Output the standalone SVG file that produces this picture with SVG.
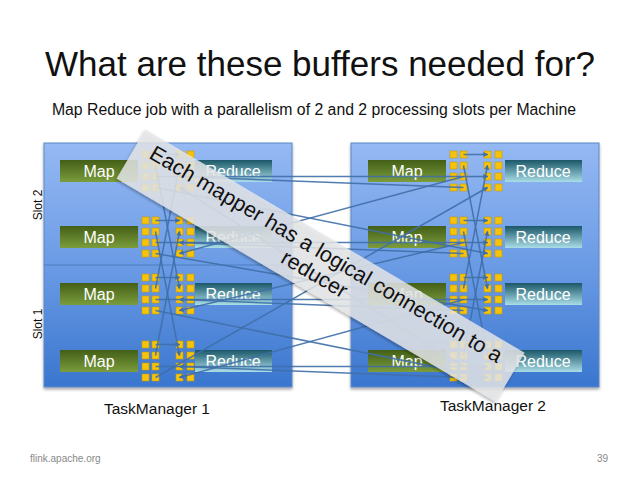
<svg xmlns="http://www.w3.org/2000/svg" xmlns:xlink="http://www.w3.org/1999/xlink" width="638" height="479" viewBox="0 0 638 479">
<style>
text{font-family:"Liberation Sans",Arial,sans-serif}
.title{font-size:35px;fill:#111}
.sub{font-size:15.8px;fill:#111}
.tm{fill:url(#tmg);stroke:#5d88c6;stroke-width:1}
.map{fill:url(#mapg)}
.red{fill:url(#redg)}
.bl{font-size:16px;fill:#fff;text-anchor:middle}
.sq{fill:#f6c30a;stroke:#c89a00;stroke-width:0.6}
.cn line{stroke:#3f6fa9;stroke-width:1.5;stroke-opacity:0.9;marker-end:url(#ah)}
.lbl{font-size:15.5px;fill:#111;text-anchor:middle}
.slot{font-size:12px;fill:#111;text-anchor:middle}
.foot{font-size:10px;fill:#888}
</style>
<defs>
<linearGradient id="tmg" x1="0" y1="0" x2="0" y2="1">
<stop offset="0" stop-color="#95b9f3"/>
<stop offset="0.5" stop-color="#6b9be5"/>
<stop offset="1" stop-color="#3a76ce"/>
</linearGradient>
<linearGradient id="mapg" x1="0" y1="0" x2="0" y2="1">
<stop offset="0" stop-color="#435f17"/>
<stop offset="1" stop-color="#7b9c3c"/>
</linearGradient>
<linearGradient id="redg" x1="0" y1="0" x2="0" y2="1">
<stop offset="0" stop-color="#1a5768"/>
<stop offset="1" stop-color="#a9dde7"/>
</linearGradient>
<filter id="sh" x="-5%" y="-5%" width="110%" height="112%">
<feDropShadow dx="0" dy="2" stdDeviation="1.5" flood-color="#000" flood-opacity="0.35"/>
</filter>
<marker id="ah" viewBox="0 0 6 6" refX="5" refY="3" markerWidth="5" markerHeight="5" orient="auto" markerUnits="userSpaceOnUse">
<path d="M0,0 L6,3 L0,6 z" fill="#3f6fa9"/>
</marker>
<g id="grid">
<rect class="sq" x="0" y="-20" width="7" height="7"/><rect class="sq" x="10" y="-20" width="7" height="7"/>
<rect class="sq" x="0" y="-9" width="7" height="7"/><rect class="sq" x="10" y="-9" width="7" height="7"/>
<rect class="sq" x="0" y="2" width="7" height="7"/><rect class="sq" x="10" y="2" width="7" height="7"/>
<rect class="sq" x="0" y="13" width="7" height="7"/><rect class="sq" x="10" y="13" width="7" height="7"/>
<rect class="sq" x="34" y="-20" width="7" height="7"/><rect class="sq" x="45" y="-20" width="7" height="7"/>
<rect class="sq" x="34" y="-9" width="7" height="7"/><rect class="sq" x="45" y="-9" width="7" height="7"/>
<rect class="sq" x="34" y="2" width="7" height="7"/><rect class="sq" x="45" y="2" width="7" height="7"/>
<rect class="sq" x="34" y="13" width="7" height="7"/><rect class="sq" x="45" y="13" width="7" height="7"/>
</g>
</defs>
<rect width="638" height="479" fill="#fff"/>
<text class="title" x="320" y="76" text-anchor="middle">What are these buffers needed for?</text>
<text class="sub" x="314" y="115" text-anchor="middle">Map Reduce job with a parallelism of 2 and 2 processing slots per Machine</text>

<g id="taskmanager1">
<rect class="tm" x="44" y="143" width="248" height="244" filter="url(#sh)"/>
<line x1="44" y1="265" x2="292" y2="265" stroke="#4f7cc0" stroke-width="1"/>
<text class="slot" transform="translate(42,205) rotate(-90)">Slot 2</text>
<text class="slot" transform="translate(42,324) rotate(-90)">Slot 1</text>
<text class="lbl" x="157" y="414">TaskManager 1</text>
</g>
<g id="taskmanager2">
<rect class="tm" x="351" y="143" width="248" height="244" filter="url(#sh)"/>
<text class="lbl" x="493" y="411">TaskManager 2</text>
</g>

<g id="tm1-map-a"><rect class="map" x="60" y="160" width="78" height="22"/><text class="bl" x="99" y="177">Map</text></g>
<g id="tm1-map-b"><rect class="map" x="60" y="226" width="78" height="22"/><text class="bl" x="99" y="243">Map</text></g>
<g id="tm1-map-c"><rect class="map" x="60" y="283" width="78" height="22"/><text class="bl" x="99" y="300">Map</text></g>
<g id="tm1-map-d"><rect class="map" x="60" y="350" width="78" height="22"/><text class="bl" x="99" y="367">Map</text></g>
<g id="tm1-reduce-a"><rect class="red" x="195" y="160" width="77" height="22"/><text class="bl" x="233" y="177">Reduce</text></g>
<g id="tm1-reduce-b"><rect class="red" x="195" y="226" width="77" height="22"/><text class="bl" x="233" y="243">Reduce</text></g>
<g id="tm1-reduce-c"><rect class="red" x="195" y="283" width="77" height="22"/><text class="bl" x="233" y="300">Reduce</text></g>
<g id="tm1-reduce-d"><rect class="red" x="195" y="350" width="77" height="22"/><text class="bl" x="233" y="367">Reduce</text></g>
<g id="tm2-map-a"><rect class="map" x="368" y="160" width="78" height="22"/><text class="bl" x="407" y="177">Map</text></g>
<g id="tm2-map-b"><rect class="map" x="368" y="226" width="78" height="22"/><text class="bl" x="407" y="243">Map</text></g>
<g id="tm2-map-c"><rect class="map" x="368" y="283" width="78" height="22"/><text class="bl" x="407" y="300">Map</text></g>
<g id="tm2-map-d"><rect class="map" x="368" y="350" width="78" height="22"/><text class="bl" x="407" y="367">Map</text></g>
<g id="tm2-reduce-a"><rect class="red" x="505" y="160" width="77" height="22"/><text class="bl" x="543" y="177">Reduce</text></g>
<g id="tm2-reduce-b"><rect class="red" x="505" y="226" width="77" height="22"/><text class="bl" x="543" y="243">Reduce</text></g>
<g id="tm2-reduce-c"><rect class="red" x="505" y="283" width="77" height="22"/><text class="bl" x="543" y="300">Reduce</text></g>
<g id="tm2-reduce-d"><rect class="red" x="505" y="350" width="77" height="22"/><text class="bl" x="543" y="367">Reduce</text></g>

<g id="buffers">
<use xlink:href="#grid" href="#grid" x="142" y="171"/>
<use xlink:href="#grid" href="#grid" x="142" y="237"/>
<use xlink:href="#grid" href="#grid" x="142" y="294"/>
<use xlink:href="#grid" href="#grid" x="142" y="361"/>
<use xlink:href="#grid" href="#grid" x="450" y="171"/>
<use xlink:href="#grid" href="#grid" x="450" y="237"/>
<use xlink:href="#grid" href="#grid" x="450" y="294"/>
<use xlink:href="#grid" href="#grid" x="450" y="361"/>
</g>

<g id="connectors" class="cn">
<line x1="155.5" y1="154.5" x2="179.5" y2="154.5"/>
<line x1="155.5" y1="165.5" x2="179.5" y2="288.5"/>
<line x1="155.5" y1="176.5" x2="487.5" y2="176.5"/>
<line x1="155.5" y1="187.5" x2="487.5" y2="253.5"/>
<line x1="155.5" y1="220.5" x2="179.5" y2="220.5"/>
<line x1="155.5" y1="231.5" x2="179.5" y2="355.5"/>
<line x1="155.5" y1="242.5" x2="487.5" y2="242.5"/>
<line x1="155.5" y1="253.5" x2="487.5" y2="310.5"/>
<line x1="155.5" y1="277.5" x2="179.5" y2="277.5"/>
<line x1="155.5" y1="288.5" x2="179.5" y2="165.5"/>
<line x1="155.5" y1="299.5" x2="487.5" y2="299.5"/>
<line x1="155.5" y1="310.5" x2="487.5" y2="377.5"/>
<line x1="155.5" y1="344.5" x2="179.5" y2="344.5"/>
<line x1="155.5" y1="355.5" x2="179.5" y2="231.5"/>
<line x1="155.5" y1="366.5" x2="487.5" y2="366.5"/>
<line x1="155.5" y1="377.5" x2="487.5" y2="187.5"/>
<line x1="463.5" y1="154.5" x2="487.5" y2="154.5"/>
<line x1="463.5" y1="165.5" x2="487.5" y2="288.5"/>
<line x1="463.5" y1="187.5" x2="179.5" y2="176.5"/>
<line x1="463.5" y1="176.5" x2="179.5" y2="253.5"/>
<line x1="463.5" y1="220.5" x2="487.5" y2="220.5"/>
<line x1="463.5" y1="231.5" x2="487.5" y2="355.5"/>
<line x1="463.5" y1="253.5" x2="179.5" y2="242.5"/>
<line x1="463.5" y1="242.5" x2="179.5" y2="310.5"/>
<line x1="463.5" y1="277.5" x2="487.5" y2="277.5"/>
<line x1="463.5" y1="288.5" x2="487.5" y2="165.5"/>
<line x1="463.5" y1="310.5" x2="179.5" y2="299.5"/>
<line x1="463.5" y1="299.5" x2="179.5" y2="377.5"/>
<line x1="463.5" y1="344.5" x2="487.5" y2="344.5"/>
<line x1="463.5" y1="355.5" x2="487.5" y2="231.5"/>
<line x1="463.5" y1="377.5" x2="179.5" y2="366.5"/>
<line x1="463.5" y1="366.5" x2="179.5" y2="187.5"/>
</g>

<g id="banner" transform="translate(321,263) rotate(30.5)">
<rect x="-219" y="-26" width="440" height="57" fill="#e6e8ea" fill-opacity="0.82" filter="url(#sh)"/>
<text x="0" y="-3" font-size="21.5" text-anchor="middle" fill="#111">Each mapper has a logical connection to a</text>
<text x="0" y="20" font-size="21.5" text-anchor="middle" fill="#111">reducer</text>
</g>

<text class="foot" x="30" y="462">flink.apache.org</text>
<text class="foot" x="608" y="462" text-anchor="end">39</text>
</svg>
